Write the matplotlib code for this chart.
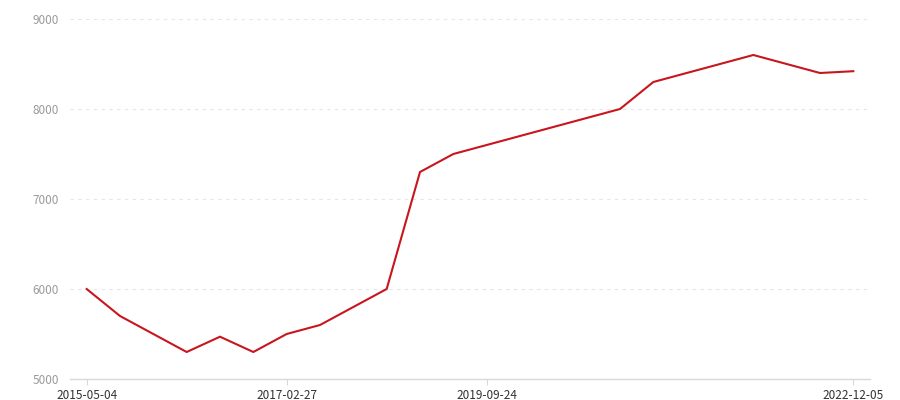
import numpy as np
import matplotlib
matplotlib.use("Agg")
import matplotlib.pyplot as plt

# 24 category slots on the x axis; only some carry a value, the line joins across gaps
values = [6000, 5700, np.nan, 5300, 5470, 5300, 5500, 5600, np.nan, 6000, 7300, 7500,
          np.nan, np.nan, np.nan, np.nan, 8000, 8300, np.nan, np.nan, 8600, np.nan, 8400, 8420]
label_pos = [0, 6, 12, 23]
labels = ["2015-05-04", "2017-02-27", "2019-09-24", "2022-12-05"]
y_ticks = [5000, 6000, 7000, 8000, 9000]

plt.rcParams['font.family'] = ['Noto Sans CJK SC', 'DejaVu Sans']

x = np.arange(len(values))
vals = np.array(values, dtype=float)
ok = ~np.isnan(vals)

fig = plt.figure(figsize=(9, 4), dpi=100)
ax = fig.add_axes([70/900, 1 - 379/400, 800/900, 360/400])

ax.plot(x[ok], vals[ok], color="#c8161e", linewidth=1.5, solid_joinstyle="miter")

ax.set_xlim(-0.5, len(values) - 0.5)
ax.set_ylim(5000, 9000)
ax.set_yticks(y_ticks)
ax.set_yticklabels([str(v) for v in y_ticks], color="#9a9a9a", fontsize=8.5)
ax.set_xticks(label_pos)
ax.set_xticklabels(labels, color="#333333", fontsize=8.5)

for v in y_ticks[1:]:
    ax.axhline(v, color="#e6e6e6", linewidth=0.8, linestyle=(0, (3, 4)), zorder=0)

for s in ["top", "right", "left"]:
    ax.spines[s].set_visible(False)
ax.spines["bottom"].set_color("#d9d9d9")
ax.spines["bottom"].set_linewidth(1)
ax.tick_params(axis="y", length=0, pad=8)
ax.tick_params(axis="x", length=4, color="#d9d9d9", pad=3)

fig.savefig("out.png", dpi=100)
